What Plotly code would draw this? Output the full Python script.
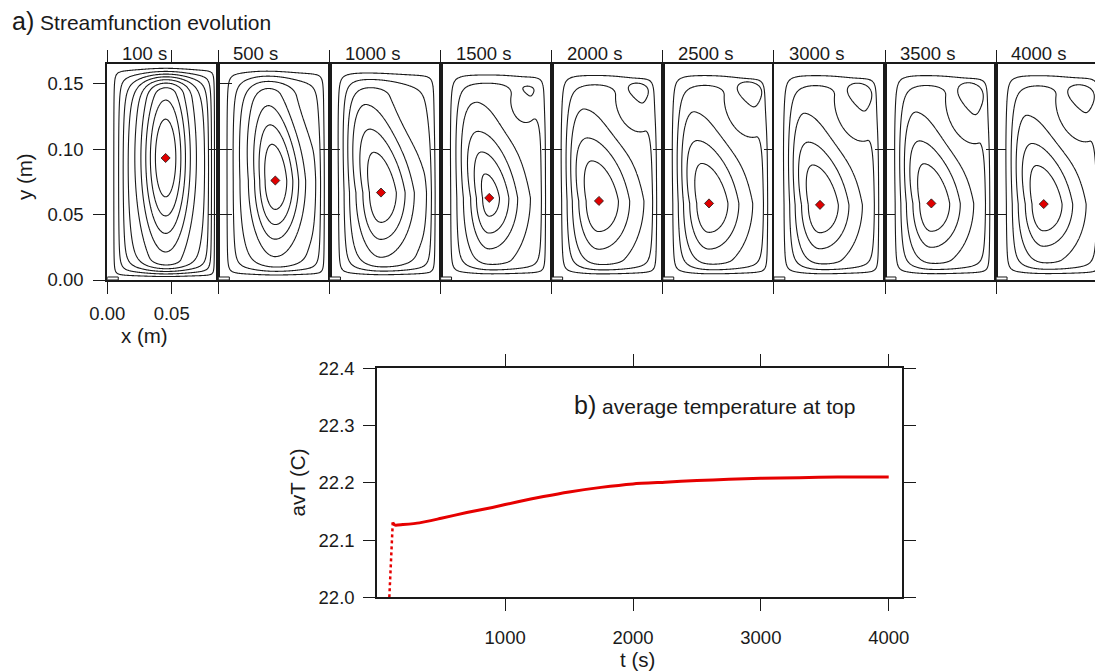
import numpy as np
import plotly.graph_objects as go

# ---------------- data ----------------
panel_labels = ["100 s", "500 s", "1000 s", "1500 s", "2000 s", "2500 s", "3000 s", "3500 s", "4000 s"]
# vortex centre (red diamond), m
center_x = [0.0453, 0.0442, 0.0400, 0.0378, 0.0367, 0.0359, 0.0358, 0.0360, 0.0370]
center_y = [0.0932, 0.0760, 0.0668, 0.0627, 0.0604, 0.0585, 0.0574, 0.0585, 0.0580]
# secondary eddy at top right (centre and size, m)
eddy_x = [None, None, None, 0.0686, 0.0680, 0.0682, 0.0674, 0.0673, 0.0669]
eddy_y = [None, None, None, 0.1443, 0.1428, 0.1418, 0.1397, 0.1385, 0.1385]
eddy_w = [None, None, None, 0.0078, 0.0140, 0.0171, 0.0171, 0.0179, 0.0186]
eddy_h = [None, None, None, 0.0076, 0.0152, 0.0191, 0.0213, 0.0244, 0.0213]
# contour levels (fraction of the peak streamfunction)
n_levels = [9, 7, 6, 6, 5, 5, 5, 5, 5]
outer_level = [0.085, 0.12, 0.15, 0.18, 0.19, 0.19, 0.19, 0.19, 0.19]
inner_level = [0.90, 0.88, 0.87, 0.93, 0.84, 0.84, 0.84, 0.84, 0.84]
# core shape of the cell (pixel scales: left, right, down, up) and lean of its top
core_left = [25, 23, 24, 19, 23, 22, 21, 21, 21]
core_right = [25, 26, 32, 29, 35, 34, 33, 33, 33]
core_down = [95, 65, 62, 52, 55, 52, 50, 50, 48]
core_up = [95, 85, 85, 68, 72, 72, 72, 72, 70]
core_lean = [0.0, 0.08, 0.17, 0.17, 0.18, 0.18, 0.18, 0.18, 0.18]
box_share = [0.35, 0.33, 0.37, 0.40, 0.40, 0.40, 0.40, 0.40, 0.40]
top_wall = [22, 23, 24, 24, 24, 24, 24, 24, 24]
corner_cut = [0.0, 0.10, 0.15, 0.33, 0.36, 0.38, 0.38, 0.38, 0.38]

BOX_W, BOX_H = 0.0863, 0.165
HEATER_W, HEATER_H = 0.0085, 0.0023

# average temperature at top
rise_t = [94, 100, 106, 112, 118, 121]
rise_T = [22.000, 22.030, 22.060, 22.090, 22.115, 22.131]
t_s = [121, 128, 140, 200, 330, 500, 700, 900, 1100, 1300, 1500, 1750, 2000, 2250,
       2500, 2750, 3000, 3300, 3600, 4000]
avT = [22.131, 22.128, 22.126, 22.127, 22.130, 22.138, 22.148, 22.157, 22.167, 22.176,
       22.184, 22.192, 22.198, 22.201, 22.204, 22.206, 22.208, 22.209, 22.210, 22.210]

# ---------------- helpers ----------------
FW, FH = 1103, 671
OFF = 8.0  # the page body offsets the figure by 8 px
FONT = "Liberation Sans, Arial, Helvetica, sans-serif"
INK = "#1a1a1a"
PANEL_L, PANEL_W = 107.3, 111.1
TOP_T, TOP_B = 64.0, 280.0
PX_W, PX_H = PANEL_W, TOP_B - TOP_T
WALL_L, WALL_R, WALL_B = 23.0, 14.0, 15.0
SOFT_P = 1.6


def px_x(p):
    return (p - OFF) / FW


def px_y(p):
    return 1 - (p - OFF) / FH


def profile(s):
    s = np.clip(s, 0, 1)
    return 0.8 * (3 * s ** 2 - 2 * s ** 3) + 0.2 * np.sin(np.pi * s / 2)


def stream(i, X, Y):
    # X, Y in panel pixels
    xc = center_x[i] / BOX_W * PX_W
    yc = center_y[i] / BOX_H * PX_H
    eps = 1e-6
    dists = [np.maximum(X, eps) / WALL_L, np.maximum(PX_W - X, eps) / WALL_R,
             np.maximum(Y, eps) / WALL_B, np.maximum(PX_H - Y, eps) / top_wall[i]]
    s_eff = sum(d ** (-SOFT_P) for d in dists) ** (-1.0 / SOFT_P)
    box = profile(s_eff)
    if corner_cut[i] > 0:
        if eddy_x[i] is not None:
            ex = eddy_x[i] / BOX_W * PX_W
            ey = eddy_y[i] / BOX_H * PX_H
            rx = eddy_w[i] / BOX_W * PX_W * 0.5 + 14
            ry = eddy_h[i] / BOX_H * PX_H * 0.5 + 22
        else:
            ex, ey, rx, ry = 92.0, 186.0, 28.0, 40.0
        bump = np.exp(-((X - ex + 5) / rx) ** 2 - ((Y - ey + 12) / ry) ** 2)
        box = box * (1 - corner_cut[i] * bump)
    dy = Y - yc
    dx = X - xc + core_lean[i] * np.clip(dy, 0, None)
    sx = np.where(dx < 0, core_left[i], core_right[i])
    sy = np.where(dy < 0, core_down[i], core_up[i])
    core = np.exp(-(dx / sx) ** 2 - (dy / sy) ** 2)
    a = box_share[i]
    return box * (a + (1 - a) * core)


def eddy_field(i, X, Y):
    ex = eddy_x[i] / BOX_W * PX_W
    ey = eddy_y[i] / BOX_H * PX_H
    ew = eddy_w[i] / BOX_W * PX_W
    eh = eddy_h[i] / BOX_H * PX_H
    dy = (Y - ey) / (eh / 2)
    dx = (X - ex) / (ew / 2) + 0.3 * dy
    return dx ** 2 / (1 + 0.45 * dy) ** 2 + dy ** 2


xs = np.linspace(0, BOX_W, 150)
ys = np.linspace(0, BOX_H, 280)
XG, YG = np.meshgrid(xs / BOX_W * PX_W, ys / BOX_H * PX_H)

fig = go.Figure()
layout = dict(
    width=FW, height=FH, margin=dict(l=0, r=0, t=0, b=0, autoexpand=False),
    paper_bgcolor="white", plot_bgcolor="white", showlegend=False,
    font=dict(family=FONT, size=18.5, color=INK), template="none",
)

annotations = []
shapes = []

for i, lab in enumerate(panel_labels):
    k = "" if i == 0 else str(i + 1)
    xa, ya = "x" + k, "y" + k
    left = PANEL_L + i * PANEL_W
    right = left + PANEL_W

    psi = stream(i, XG, YG)
    n = n_levels[i]
    step = (inner_level[i] - outer_level[i]) / (n - 1)
    fig.add_trace(go.Contour(
        x=xs, y=ys, z=psi, xaxis=xa, yaxis=ya, showscale=False, hoverinfo="skip",
        autocontour=False,
        contours=dict(coloring="none", start=outer_level[i],
                      end=inner_level[i] + step * 0.01, size=step),
        line=dict(color=INK, width=1.1, smoothing=1.0),
    ))
    if eddy_x[i] is not None:
        ez = eddy_field(i, XG, YG)
        fig.add_trace(go.Contour(
            x=xs, y=ys, z=ez, xaxis=xa, yaxis=ya, showscale=False, hoverinfo="skip",
            autocontour=False,
            contours=dict(coloring="none", start=1.0, end=1.5, size=5.0),
            line=dict(color=INK, width=1.1, smoothing=1.0),
        ))
    fig.add_trace(go.Scatter(
        x=[center_x[i]], y=[center_y[i]], xaxis=xa, yaxis=ya, mode="markers",
        marker=dict(symbol="diamond", size=7, color="#e00000", line=dict(color=INK, width=0.8)),
        hoverinfo="skip",
    ))

    first = i == 0
    layout["xaxis" + k] = dict(
        domain=[px_x(left), px_x(right)], range=[0, BOX_W], anchor=ya, automargin=False,
        showgrid=False, zeroline=False, showline=True, linecolor=INK, linewidth=2,
        mirror="ticks", ticks="outside", ticklen=12, tickwidth=1.2, tickcolor=INK,
        tickvals=[0, 0.05] if first else [0], ticktext=["0.00", "0.05"] if first else [""],
        showticklabels=first, ticklabelstandoff=4,
    )
    layout["yaxis" + k] = dict(
        domain=[px_y(TOP_B), px_y(TOP_T)], range=[0, BOX_H], anchor=xa, automargin=False,
        showgrid=False, zeroline=False, showline=True, linecolor=INK, linewidth=2,
        mirror="ticks", ticks="outside", ticklen=12 if first else 8,
        tickwidth=1.2, tickcolor=INK,
        tickvals=[0, 0.05, 0.10, 0.15] if first else [0.05, 0.10],
        ticktext=["0.00", "0.05", "0.10", "0.15"] if first else ["", ""],
        showticklabels=first, ticklabelstandoff=6,
    )
    shapes.append(dict(type="rect", xref=xa, yref=ya, x0=0, x1=HEATER_W, y0=0, y1=HEATER_H,
                       line=dict(color=INK, width=1), fillcolor="white", layer="above"))
    annotations.append(dict(text=lab, xref="paper", yref="paper", x=px_x(left + 13),
                            y=px_y(53.5), xanchor="left", yanchor="middle", showarrow=False,
                            font=dict(size=18.5)))

# ---------------- bottom panel ----------------
fig.add_trace(go.Scatter(x=rise_t, y=rise_T, xaxis="x10", yaxis="y10", mode="lines",
                         line=dict(color="#e60000", width=2.5, dash="dot"), hoverinfo="skip"))
fig.add_trace(go.Scatter(x=t_s, y=avT, xaxis="x10", yaxis="y10", mode="lines",
                         line=dict(color="#e60000", width=3, shape="spline", smoothing=0.6),
                         hoverinfo="skip"))

layout["xaxis10"] = dict(
    domain=[px_x(377.3), px_x(901.5)], range=[0, 4100], anchor="y10", automargin=False,
    showgrid=False, zeroline=False, showline=True, linecolor=INK, linewidth=2,
    mirror="ticks", ticks="outside", ticklen=12, tickwidth=1.2, tickcolor=INK,
    tickvals=[1000, 2000, 3000, 4000], ticktext=["1000", "2000", "3000", "4000"],
    ticklabelstandoff=10,
)
layout["yaxis10"] = dict(
    domain=[px_y(597.3), px_y(368.3)], range=[22.0, 22.4], anchor="x10", automargin=False,
    showgrid=False, zeroline=False, showline=True, linecolor=INK, linewidth=2,
    mirror="ticks", ticks="outside", ticklen=12, tickwidth=1.2, tickcolor=INK,
    tickvals=[22.0, 22.1, 22.2, 22.3, 22.4], ticktext=["22.0", "22.1", "22.2", "22.3", "22.4"],
    ticklabelstandoff=5,
)

annotations += [
    dict(text="<span style='font-size:25px'>a)</span> Streamfunction evolution",
         xref="paper", yref="paper", x=px_x(10), y=px_y(21), xanchor="left",
         yanchor="middle", showarrow=False, font=dict(size=21)),
    dict(text="x (m)", xref="paper", yref="paper", x=px_x(144.5), y=px_y(336),
         xanchor="center", yanchor="middle", showarrow=False, font=dict(size=20.5)),
    dict(text="y (m)", xref="paper", yref="paper", x=px_x(25), y=px_y(177),
         xanchor="center", yanchor="middle", showarrow=False, textangle=-90,
         font=dict(size=20.5)),
    dict(text="avT (C)", xref="paper", yref="paper", x=px_x(297.5), y=px_y(483),
         xanchor="center", yanchor="middle", showarrow=False, textangle=-90,
         font=dict(size=20.5)),
    dict(text="t (s)", xref="paper", yref="paper", x=px_x(637), y=px_y(659),
         xanchor="center", yanchor="middle", showarrow=False, font=dict(size=20.5)),
    dict(text="<span style='font-size:25px'>b)</span> average temperature at top",
         xref="paper", yref="paper", x=px_x(572), y=px_y(405), xanchor="left",
         yanchor="middle", showarrow=False, font=dict(size=21)),
]
layout["annotations"] = annotations
layout["shapes"] = shapes
fig.update_layout(**layout)
fig.write_html("out.html")
